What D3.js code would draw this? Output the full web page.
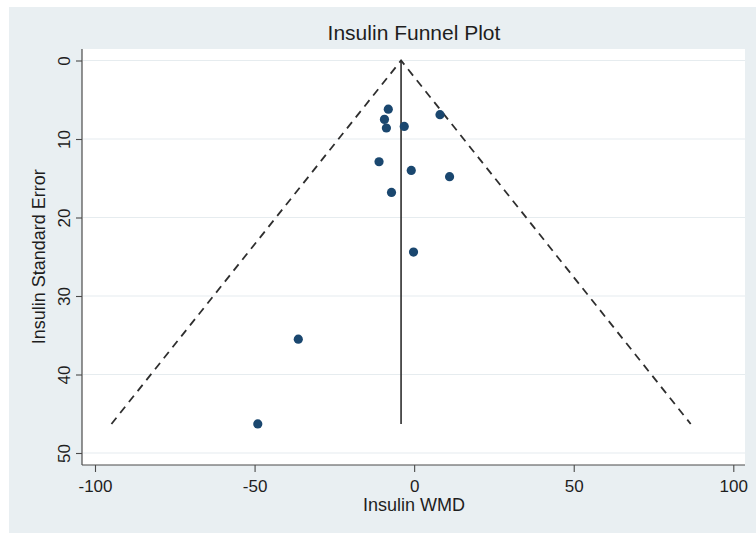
<!DOCTYPE html>
<html>
<head>
<meta charset="utf-8">
<script src="https://cdn.jsdelivr.net/npm/d3@7"></script>
<style>
  html, body { margin: 0; padding: 0; background: #ffffff; }
  svg { display: block; }
  text { font-family: "Liberation Sans", Arial, Helvetica, sans-serif; fill: #1e1e1e; }
</style>
</head>
<body>
<script>
// Study-level estimates: weighted mean difference and its standard error
const wmd = [-8.1, -9.3, -8.7, -3.1, 8.1, -11.0, -0.9, 11.1, -7.1, -0.2, -36.3, -49.0];
const se  = [6.2, 7.5, 8.6, 8.4, 6.9, 12.9, 14.0, 14.8, 16.8, 24.4, 35.5, 46.3];

// Pooled estimate drawn as the vertical reference line
const pooled = -4.1;

const xTicks = [-100, -50, 0, 50, 100];
const yTicks = [0, 10, 20, 30, 40, 50];

const W = 756, H = 533;
const plot = { left: 82, right: 745, top: 49, bottom: 465 };

// plain hyphen for negative numbers
const fmt = d => String(d);

const svg = d3.select("body").append("svg")
  .attr("width", W).attr("height", H);

// outer graph region
svg.append("rect")
  .attr("x", 9).attr("y", 7).attr("width", W - 9).attr("height", H - 7)
  .attr("fill", "#e9eff2");

// inner plot region
svg.append("rect")
  .attr("x", plot.left).attr("y", plot.top)
  .attr("width", plot.right - plot.left).attr("height", plot.bottom - plot.top)
  .attr("fill", "#ffffff");

const x = d3.scaleLinear().domain([-100, 100]).range([95, 733.3]);
const y = d3.scaleLinear().domain([0, 50]).range([60.5, 453]);

// horizontal grid lines
svg.append("g").selectAll("line").data(yTicks).join("line")
  .attr("x1", plot.left + 1).attr("x2", plot.right)
  .attr("y1", d => y(d)).attr("y2", d => y(d))
  .attr("stroke", "#e6ecef").attr("stroke-width", 1.2);

// axes
const axisColor = "#4a4a4a";
const xAxis = svg.append("g")
  .attr("transform", `translate(0,${plot.bottom})`)
  .call(d3.axisBottom(x).tickValues(xTicks).tickSize(7).tickPadding(7).tickFormat(fmt));
const yAxis = svg.append("g")
  .attr("transform", `translate(${plot.left},0)`)
  .call(d3.axisLeft(y).tickValues(yTicks).tickSize(6).tickPadding(0).tickFormat(fmt));

[xAxis, yAxis].forEach(g => {
  g.select(".domain").remove();
  g.selectAll(".tick line").attr("stroke", axisColor).attr("stroke-width", 1.1);
  g.selectAll(".tick text").attr("fill", "#1e1e1e")
    .style("font-family", "'Liberation Sans', Arial, sans-serif").style("font-size", "17px");
});
xAxis.selectAll(".tick text").attr("dy", "0.75em");
yAxis.selectAll(".tick text")
  .attr("x", null).attr("dy", null)
  .attr("text-anchor", "middle")
  .attr("transform", "translate(-18,0) rotate(-90)")
  .attr("dy", "0.35em");

// axis lines
svg.append("line")
  .attr("x1", plot.left).attr("x2", plot.left)
  .attr("y1", plot.top).attr("y2", plot.bottom)
  .attr("stroke", axisColor).attr("stroke-width", 1.2);
svg.append("line")
  .attr("x1", plot.left).attr("x2", plot.right)
  .attr("y1", plot.bottom).attr("y2", plot.bottom)
  .attr("stroke", axisColor).attr("stroke-width", 1.2);

// pseudo 95% confidence limits
const maxSE = d3.max(se);
const funnel = [
  [pooled - 1.96 * maxSE, maxSE],
  [pooled, 0],
  [pooled + 1.96 * maxSE, maxSE]
];
svg.append("path")
  .datum(funnel)
  .attr("d", d3.line().x(d => x(d[0])).y(d => y(d[1])))
  .attr("fill", "none")
  .attr("stroke", "#2e2e2e").attr("stroke-width", 1.8)
  .attr("stroke-dasharray", "8,6");

// pooled effect line
svg.append("line")
  .attr("x1", x(pooled)).attr("x2", x(pooled))
  .attr("y1", y(0)).attr("y2", y(maxSE))
  .attr("stroke", "#2e2e2e").attr("stroke-width", 1.6);

// studies
svg.append("g").selectAll("circle").data(wmd.map((v, i) => [v, se[i]])).join("circle")
  .attr("cx", d => x(d[0])).attr("cy", d => y(d[1]))
  .attr("r", 4.6)
  .attr("fill", "#1a476f");

// titles
svg.append("text")
  .attr("x", 414).attr("y", 40)
  .attr("text-anchor", "middle")
  .style("font-size", "21px")
  .text("Insulin Funnel Plot");

svg.append("text")
  .attr("x", 414).attr("y", 511)
  .attr("text-anchor", "middle")
  .style("font-size", "18px")
  .text("Insulin WMD");

svg.append("text")
  .attr("transform", `translate(45,${(y(0) + y(50)) / 2}) rotate(-90)`)
  .attr("text-anchor", "middle")
  .style("font-size", "18px")
  .text("Insulin Standard Error");
</script>
</body>
</html>
